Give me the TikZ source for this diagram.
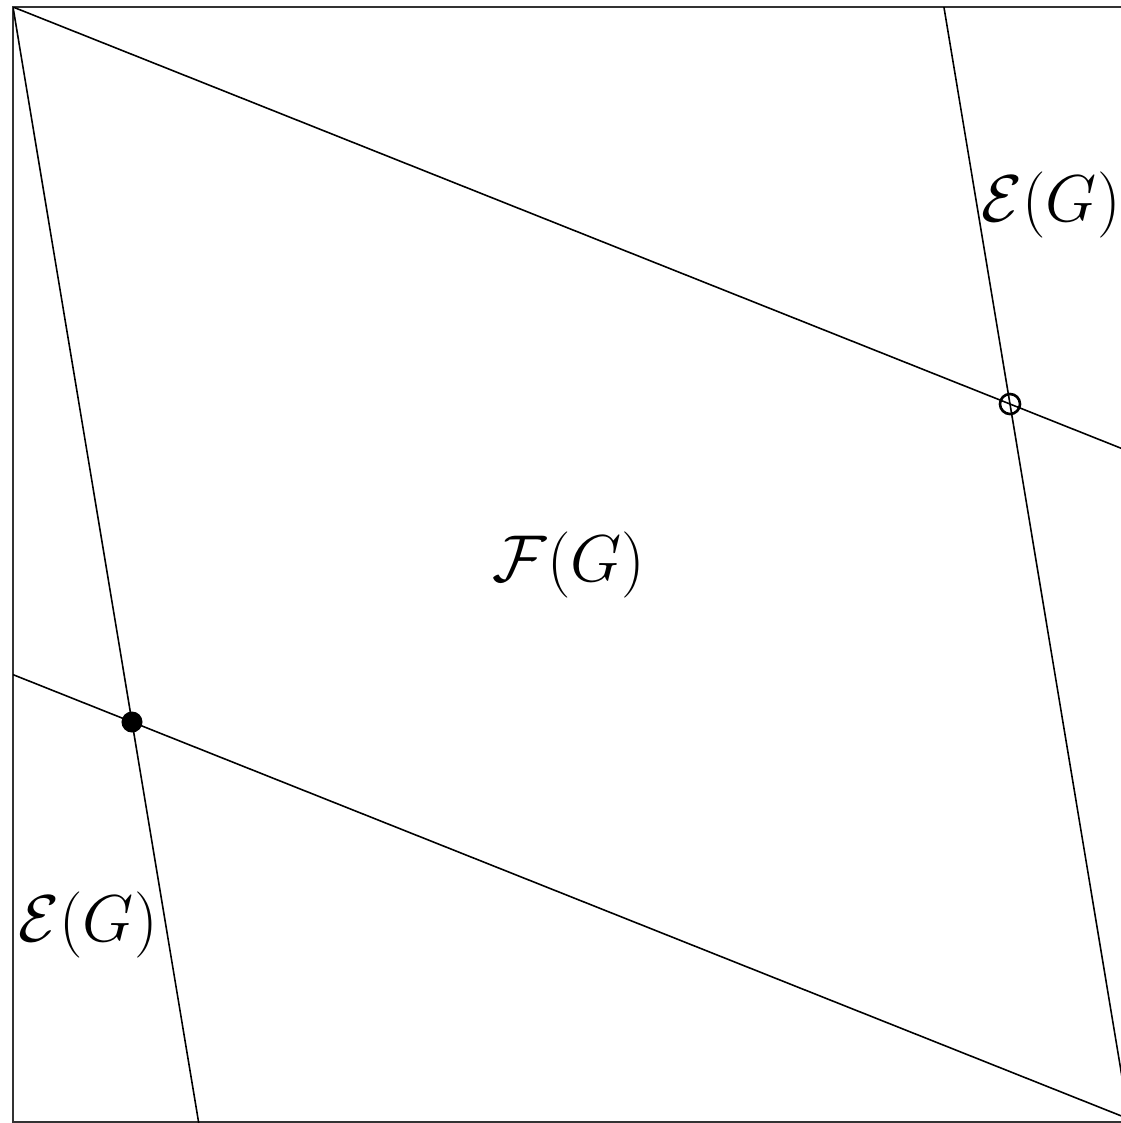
\documentclass[tikz,border=0pt]{standalone}
\usepackage{amsmath, amssymb}
\usetikzlibrary{calc}

\begin{document}
\begin{tikzpicture}[
		x=0.01cm, y=-0.01cm,
		gridline/.style={line width=0.45pt, black},
		frameline/.style={line width=0.45pt, black!80},
		fullpt/.style={circle, fill=black, inner sep=0pt, minimum size=0.21cm},
		openpt/.style={circle, draw=black, line width=0.75pt, inner sep=0pt, minimum size=0.2cm},
		lbl/.style={font=\LARGE, scale=1.09, inner sep=0pt}
		]
		\useasboundingbox (0,0) rectangle (1121,1123);
		\clip (0,0) rectangle (1121,1123);

		% lattice points
		\coordinate (p00) at (13,7);
		\coordinate (p10) at (1010,404);
		\coordinate (p01) at (132,722);
		\coordinate (p11) at ($(p10)+(p01)-(p00)$);

		\draw[frameline] (13,7) rectangle (1130,1122);

		\begin{scope}
			\clip (13,7) rectangle (1130,1122);
			\draw[gridline] ($(p00)!-0.2!(p10)$) -- ($(p00)!1.3!(p10)$);
			\draw[gridline] ($(p01)!-0.2!(p11)$) -- ($(p01)!1.3!(p11)$);
			\draw[gridline] ($(p00)!-0.2!(p01)$) -- ($(p00)!1.7!(p01)$);
			\draw[gridline] ($(p10)!-0.7!(p11)$) -- ($(p10)!1.3!(p11)$);
		\end{scope}

		\node[fullpt] (base) at (p01) {};
		\node[openpt] (shift) at (p10) {};

		\node[lbl] (edgeup)   at (1051,205) {$\mathcal{E}(G)$};
		\node[lbl] (face)     at (569,565)  {$\mathcal{F}(G)$};
		\node[lbl] (edgedown) at (88,925)   {$\mathcal{E}(G)$};
	\end{tikzpicture}
\end{document}
